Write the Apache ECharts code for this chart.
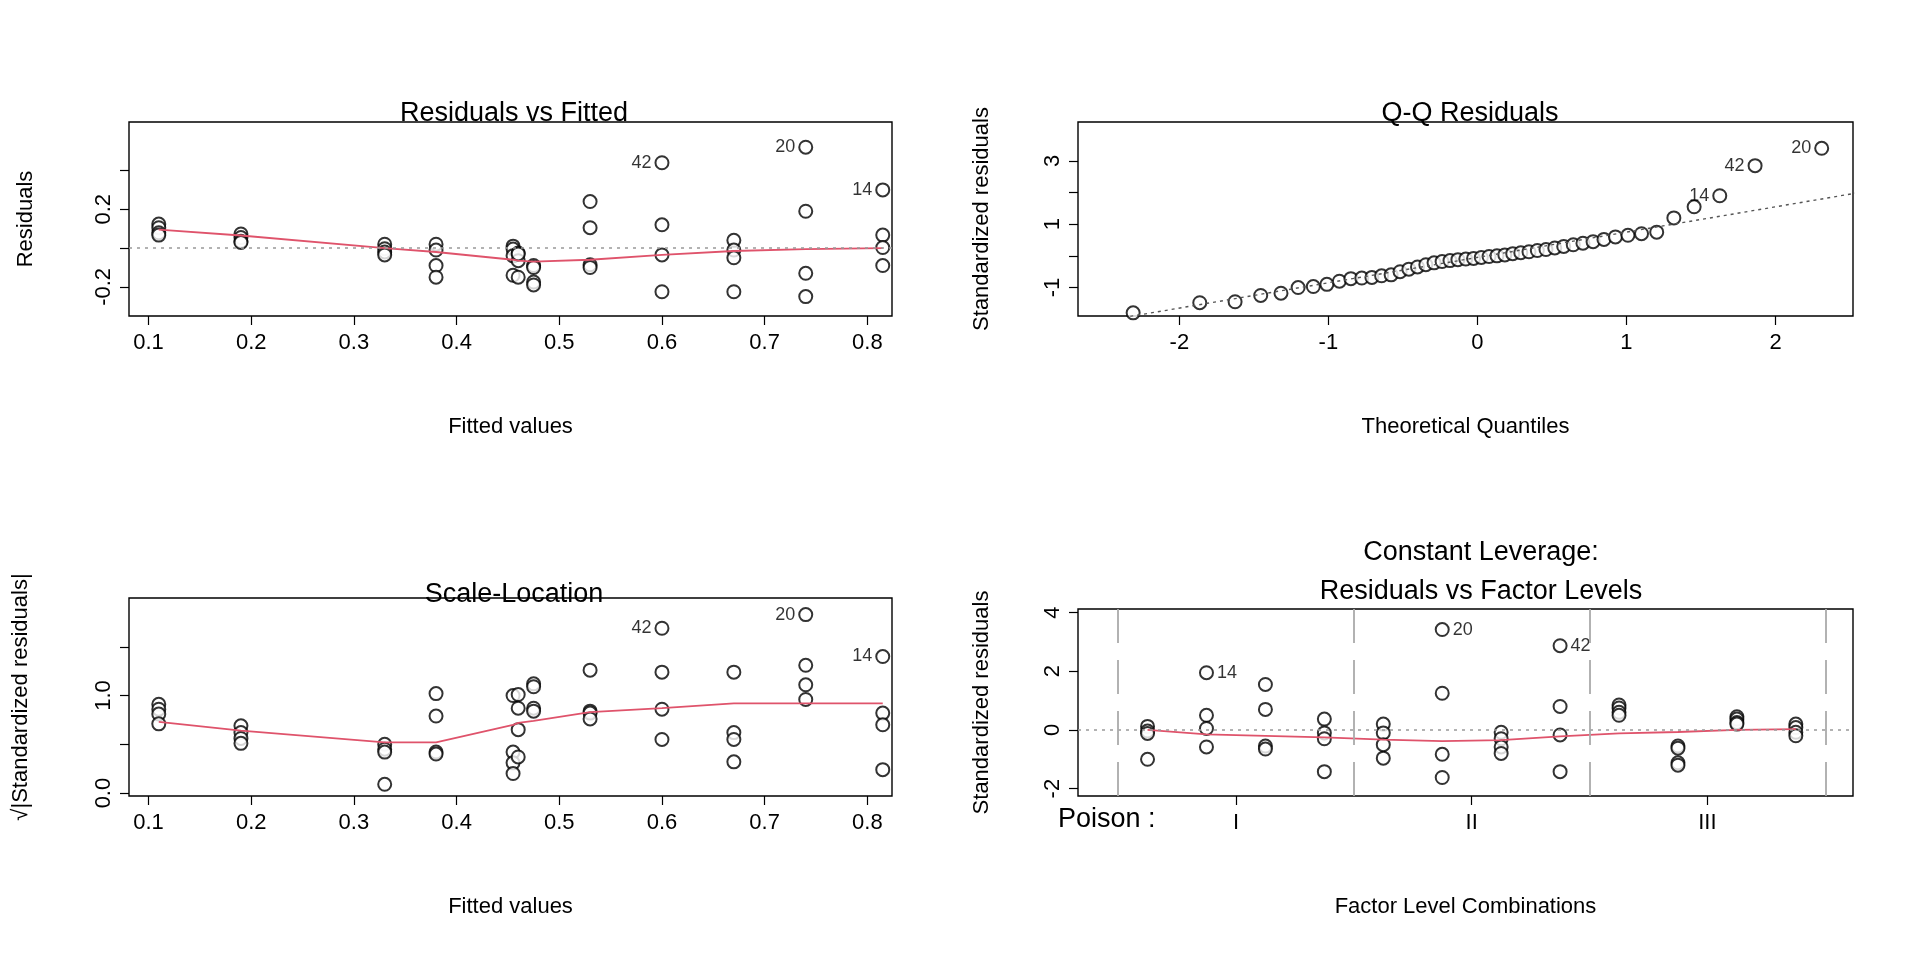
<!DOCTYPE html>
<html>
<head>
<meta charset="utf-8">
<script src="https://cdn.jsdelivr.net/npm/echarts@6/dist/echarts.min.js"></script>
<style>html,body{margin:0;background:#fff}#c{width:1920px;height:960px}</style>
</head>
<body>
<div id="c"></div>
<script>
// fitted value of each of the 12 poison x treatment cells
const fitted = [0.11, 0.19, 0.33, 0.38, 0.455, 0.46, 0.475, 0.53, 0.60, 0.67, 0.74, 0.815];
// residuals, 4 per cell
const resid = [
  [0.124, 0.105, 0.079, 0.067],
  [0.073, 0.054, 0.035, 0.029],
  [0.02, -0.003, -0.02, -0.035],
  [0.02, -0.01, -0.09, -0.15],
  [0.01, -0.005, -0.04, -0.14],
  [-0.025, -0.065, -0.15, -0.03],
  [-0.09, -0.1, -0.175, -0.19],
  [0.24, 0.105, -0.086, -0.1],
  [0.44, 0.12, -0.035, -0.225],
  [0.04, -0.01, -0.05, -0.225],
  [0.52, 0.19, -0.13, -0.25],
  [0.30, 0.067, 0.003, -0.09]
];
const residSmooth = [0.095, 0.065, 0.0, -0.02, -0.06, -0.065, -0.07, -0.06, -0.035, -0.015, -0.005, 0.0];
// sqrt(|standardized residuals|), 4 per cell
const scaleLoc = [
  [0.91, 0.86, 0.81, 0.71],
  [0.69, 0.62, 0.56, 0.51],
  [0.5, 0.45, 0.42, 0.09],
  [1.02, 0.79, 0.42, 0.40],
  [1.0, 0.42, 0.31, 0.2],
  [1.01, 0.87, 0.65, 0.37],
  [1.12, 1.09, 0.87, 0.84],
  [1.26, 0.84, 0.82, 0.76],
  [1.69, 1.24, 0.86, 0.55],
  [1.24, 0.62, 0.55, 0.32],
  [1.83, 1.31, 1.11, 0.96],
  [1.4, 0.82, 0.7, 0.24]
];
const scaleSmooth = [0.73, 0.64, 0.52, 0.52, 0.7, 0.72, 0.74, 0.83, 0.87, 0.92, 0.92, 0.92];
// Q-Q
const theoQ = [-2.31, -1.863, -1.626, -1.454, -1.318, -1.203, -1.101, -1.010, -0.926, -0.849, -0.776, -0.708,
  -0.643, -0.579, -0.519, -0.460, -0.402, -0.346, -0.291, -0.237, -0.184, -0.131, -0.078, -0.026,
  0.026, 0.078, 0.131, 0.184, 0.237, 0.291, 0.346, 0.402, 0.460, 0.519, 0.579, 0.643,
  0.708, 0.776, 0.849, 0.926, 1.010, 1.101, 1.203, 1.318, 1.454, 1.626, 1.863, 2.31];
const stdSorted = [-1.8, -1.48, -1.45, -1.25, -1.18, -1.0, -0.97, -0.9, -0.8, -0.72, -0.7, -0.68,
  -0.63, -0.6, -0.5, -0.42, -0.35, -0.28, -0.22, -0.18, -0.15, -0.12, -0.1, -0.08,
  -0.05, -0.02, 0.0, 0.03, 0.07, 0.1, 0.13, 0.17, 0.2, 0.25, 0.3, 0.35,
  0.4, 0.45, 0.52, 0.6, 0.65, 0.7, 0.75, 1.2, 1.55, 1.9, 2.85, 3.4];
const qqLabels = {45: '14', 46: '42', 47: '20'};
const qqLine = [[-2.7, -2.21], [2.55, 1.99]];
// standardized residuals by factor level combination (4 per cell)
const stdRes = [
  [0.12, -0.04, -0.12, -1.0],
  [1.95, 0.5, 0.05, -0.58],
  [1.55, 0.7, -0.55, -0.65],
  [0.37, -0.1, -0.3, -1.42],
  [0.2, -0.1, -0.5, -0.96],
  [3.42, 1.25, -0.83, -1.62],
  [-0.08, -0.3, -0.58, -0.8],
  [2.87, 0.8, -0.17, -1.42],
  [0.85, 0.75, 0.6, 0.5],
  [-0.55, -0.62, -1.12, -1.2],
  [0.45, 0.37, 0.25, 0.2],
  [0.2, 0.08, -0.08, -0.2]
];
const levelSmooth = [0, -0.15, -0.2, -0.25, -0.33, -0.38, -0.35, -0.22, -0.12, -0.07, 0, 0.03];
const poisonLevels = ['I', 'II', 'III'];
// labelled observations: [cell, index within cell] -> id
const fittedLabels = {'8-0': '42', '10-0': '20', '11-0': '14'};
const levelLabels = {'1-0': '14', '5-0': '20', '7-0': '42'};

const FONT = 'Liberation Sans';
const pt = {symbol: 'emptyCircle', symbolSize: 13, itemStyle: {color: '#000', borderColor: '#000', borderWidth: 1.5}};
const ptLabel = {show: true, distance: 3, fontSize: 18, fontFamily: FONT, color: '#000'};

function cellPoints(xs, vals, labels, pos) {
  const out = [];
  vals.forEach((arr, g) => arr.forEach((v, k) => {
    const item = {value: [xs[g], v]};
    const id = labels[g + '-' + k];
    if (id) item.label = Object.assign({formatter: id, position: pos}, ptLabel);
    out.push(item);
  }));
  return out;
}
const cellIdx = fitted.map((_, i) => i + 1);

function xAx(grid, min, max, ticks, name, fmt) {
  return {
    type: 'value', gridIndex: grid, min: min, max: max, name: name, nameLocation: 'middle', nameGap: 100,
    nameTextStyle: {fontSize: 22, fontFamily: FONT, color: '#000'},
    splitLine: {show: false}, axisLine: {show: false, onZero: false},
    axisTick: {show: true, length: 9, customValues: ticks, lineStyle: {color: '#000', width: 1.2}},
    axisLabel: {customValues: ticks, fontSize: 22, fontFamily: FONT, color: '#000', margin: 16, formatter: fmt}
  };
}
function yAx(grid, min, max, ticks, name, fmt, gap) {
  return {
    type: 'value', gridIndex: grid, min: min, max: max, name: name, nameLocation: 'middle', nameGap: gap,
    nameTextStyle: {fontSize: 22, fontFamily: FONT, color: '#000'},
    splitLine: {show: false}, axisLine: {show: false, onZero: false},
    axisTick: {show: true, length: 9, customValues: ticks, lineStyle: {color: '#000', width: 1.2}},
    axisLabel: {customValues: ticks, fontSize: 22, fontFamily: FONT, color: '#000', margin: 14, rotate: 90,
      verticalAlign: 'bottom', align: 'center', formatter: fmt}
  };
}
const red = {color: '#DF536B', width: 1.8};
const gridBase = {show: true, borderColor: '#000', borderWidth: 1.4, backgroundColor: 'transparent'};
const titleStyle = {fontSize: 27, fontWeight: 'normal', fontFamily: FONT, color: '#000', lineHeight: 39};

const option = {
  animation: false,
  backgroundColor: '#fff',
  title: [
    {text: 'Residuals vs Fitted', left: 509, top: 89, textAlign: 'center', textStyle: titleStyle},
    {text: 'Q-Q Residuals', left: 1465, top: 89, textAlign: 'center', textStyle: titleStyle},
    {text: 'Scale-Location', left: 509, top: 570, textAlign: 'center', textStyle: titleStyle},
    {text: 'Constant Leverage:\nResiduals vs Factor Levels', left: 1476, top: 528, textAlign: 'center', textStyle: titleStyle}
  ],
  graphic: [{type: 'text', left: 1058, top: 806, style: {text: 'Poison :', fontSize: 27, fontFamily: FONT, fill: '#000'}}],
  grid: [
    Object.assign({left: 129, top: 122, width: 763, height: 194}, gridBase),
    Object.assign({left: 1078, top: 122, width: 775, height: 194}, gridBase),
    Object.assign({left: 129, top: 598, width: 763, height: 198}, gridBase),
    Object.assign({left: 1078, top: 609, width: 775, height: 187}, gridBase)
  ],
  xAxis: [
    xAx(0, 0.081, 0.824, [0.1, 0.2, 0.3, 0.4, 0.5, 0.6, 0.7, 0.8], 'Fitted values', v => v.toFixed(1)),
    xAx(1, -2.68, 2.52, [-2, -1, 0, 1, 2], 'Theoretical Quantiles', v => String(v)),
    xAx(2, 0.081, 0.824, [0.1, 0.2, 0.3, 0.4, 0.5, 0.6, 0.7, 0.8], 'Fitted values', v => v.toFixed(1)),
    xAx(3, -0.18, 12.97, [2.5, 6.5, 10.5], 'Factor Level Combinations', v => poisonLevels[Math.round((v - 2.5) / 4)])
  ],
  yAxis: [
    yAx(0, -0.35, 0.65, [-0.2, 0, 0.2, 0.4], 'Residuals', v => (Math.abs(v - 0.2) < 1e-6 ? '0.2' : Math.abs(v + 0.2) < 1e-6 ? '-0.2' : ''), 92),
    yAx(1, -1.9, 4.23, [-1, 0, 1, 2, 3], 'Standardized residuals', v => (Math.abs(v) % 2 === 1 ? String(v) : ''), 85),
    yAx(2, -0.03, 2.0, [0, 0.5, 1.0, 1.5], '√|Standardized residuals|', v => (v === 0 ? '0.0' : v === 1 ? '1.0' : ''), 97),
    yAx(3, -2.25, 4.12, [-2, 0, 2, 4], 'Standardized residuals', v => String(v), 85)
  ],
  series: [
    Object.assign({type: 'scatter', xAxisIndex: 0, yAxisIndex: 0, data: cellPoints(fitted, resid, fittedLabels, 'left'),
      markLine: {silent: true, symbol: 'none', label: {show: false}, lineStyle: {color: '#999', type: [3, 5], width: 1.5}, data: [{yAxis: 0}]}}, pt),
    {type: 'line', xAxisIndex: 0, yAxisIndex: 0, data: fitted.map((x, i) => [x, residSmooth[i]]), symbol: 'none', lineStyle: red},
    Object.assign({type: 'scatter', xAxisIndex: 1, yAxisIndex: 1,
      data: theoQ.map((x, i) => {
        const item = {value: [x, stdSorted[i]]};
        if (qqLabels[i]) item.label = Object.assign({formatter: qqLabels[i], position: 'left'}, ptLabel);
        return item;
      })}, pt),
    {type: 'line', xAxisIndex: 1, yAxisIndex: 1, data: qqLine, symbol: 'none', lineStyle: {color: '#555', type: [3, 4], width: 1.4}},
    Object.assign({type: 'scatter', xAxisIndex: 2, yAxisIndex: 2, data: cellPoints(fitted, scaleLoc, fittedLabels, 'left')}, pt),
    {type: 'line', xAxisIndex: 2, yAxisIndex: 2, data: fitted.map((x, i) => [x, scaleSmooth[i]]), symbol: 'none', lineStyle: red},
    Object.assign({type: 'scatter', xAxisIndex: 3, yAxisIndex: 3, data: cellPoints(cellIdx, stdRes, levelLabels, 'right'),
      markLine: {silent: true, symbol: 'none', label: {show: false}, data: [
        {yAxis: 0, lineStyle: {color: '#999', type: [3, 5], width: 1.5}},
        {xAxis: 0.5, lineStyle: {color: '#aaa', type: [34, 17], width: 1.8}},
        {xAxis: 4.5, lineStyle: {color: '#aaa', type: [34, 17], width: 1.8}},
        {xAxis: 8.5, lineStyle: {color: '#aaa', type: [34, 17], width: 1.8}},
        {xAxis: 12.5, lineStyle: {color: '#aaa', type: [34, 17], width: 1.8}}
      ]}}, pt),
    {type: 'line', xAxisIndex: 3, yAxisIndex: 3, data: cellIdx.map((x, i) => [x, levelSmooth[i]]), symbol: 'none', lineStyle: red}
  ]
};
echarts.init(document.getElementById('c')).setOption(option);
</script>
</body>
</html>
